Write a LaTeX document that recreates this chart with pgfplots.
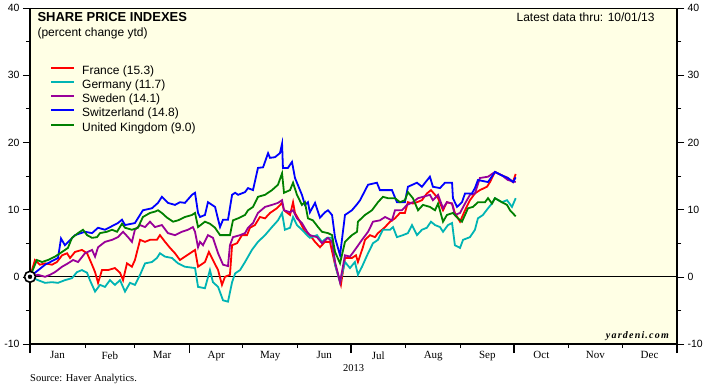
\documentclass[border=0pt]{standalone}
\usepackage{fontspec}
\setmainfont{Liberation Sans}
\newfontfamily\serif{Liberation Serif}
\newfontfamily\yard[LetterSpace=12]{Liberation Serif}
\usepackage{pgfplots}
\pgfplotsset{compat=1.18}
\definecolor{cream}{RGB}{255,255,229}
\definecolor{frc}{RGB}{255,0,0}
\definecolor{gerc}{RGB}{0,180,180}
\definecolor{swec}{RGB}{153,0,153}
\definecolor{swic}{RGB}{0,0,255}
\definecolor{ukc}{RGB}{0,128,0}
\begin{document}
\begin{tikzpicture}
\pgfplotsset{base/.style={scale only axis, width=647bp, height=336bp,
  xmin=0, xmax=365, ymin=-10, ymax=40,
  ytick={-10,0,10,20,30,40}, minor y tick num=1,
  tick align=outside, major tick length=7bp, minor tick length=4bp,
  tick style={black, line width=0.6bp},
  /pgf/number format/assume math mode=true,
  yticklabel style={font=\fontsize{10.5bp}{12bp}\selectfont},
  axis line style={line width=0.7bp}}}
\begin{axis}[base, name=main,
  axis background/.style={fill=cream},
  ytick pos=both, yticklabel pos=left,
  xtick pos=left,
  xtick={15.5,45,74.5,105,135.5,166,196.5,227.5,258,288.5,319,349.5},
  xticklabels={Jan,Feb,Mar,Apr,May,Jun,Jul,Aug,Sep,Oct,Nov,Dec},
  major x tick style={draw=none},
  minor xtick={31,59,120,151,212,243,304,334},
  minor x tick style={line width=0.8bp},
  extra x ticks={0,90,181,273,365},
  extra x tick labels={,,,,},
  extra x tick style={major tick length=9bp, major x tick style={draw=black, line width=1.5bp}},
  xticklabel style={font=\serif\fontsize{11bp}{13bp}\selectfont, yshift=3bp},
  legend style={at={(rel axis cs:0,1)}, anchor=north west, xshift=20bp, yshift=-57bp,
    draw=none, fill=none, inner sep=0pt, row sep=2.25bp, column sep=7bp,
    font=\fontsize{12bp}{14bp}\selectfont,
    nodes={inner sep=0pt, text height=9bp, text depth=3bp, anchor=west}},
  legend cell align=left,
  legend image code/.code={\draw[#1, line width=2bp] (0bp,3.5bp) -- (23bp,3.5bp);},
]
\draw[black, line width=0.8bp] (axis cs:0,0) -- (axis cs:365,0);
\addplot[frc, line width=1.8bp] coordinates {(0,0)(2.8,2.5)(5.6,1.8)(8.5,2.0)(12.4,1.8)(15.2,2.2)(18.1,3.2)(20.9,3.5)(22.6,2.8)(25.4,3.7)(29.3,4.0)(32.2,3.5)(35.0,1.8)(36.7,0.7)(38.4,-0.9)(40.6,1.0)(44.0,1.0)(47.9,1.3)(50.8,0.6)(52.5,-0.5)(54.7,2.0)(57.5,1.5)(59.2,2.5)(62.1,5.5)(64.9,5.2)(67.7,5.5)(71.6,5.5)(73.3,6.2)(76.2,5.2)(79.0,4.3)(81.8,3.5)(84.6,2.5)(87.4,3.0)(90.3,3.5)(93.1,4.0)(94.8,1.5)(98.7,2.2)(100.9,3.7)(103.2,2.5)(106.1,1.0)(108.3,-1.2)(110.0,0)(112.8,0.3)(114.0,4.7)(116.8,5.0)(119.6,6.2)(122.4,6.2)(124.1,7.3)(126.9,7.7)(129.7,8.9)(132.6,8.7)(135.4,9.5)(139.3,10.2)(142.2,11.0)(143.3,9.9)(146.7,9.2)(148.4,11.1)(149.5,9.5)(152.3,8.2)(155.1,6.7)(157.9,6.2)(160.8,5.2)(163.6,4.4)(166.4,5.2)(169.2,5.2)(172.1,1.8)(175.4,-1.2)(177.7,2.8)(181.6,2.8)(183.9,3.2)(185.0,2.2)(187.8,4.4)(189.0,5.5)(191.8,6.2)(194.6,5.9)(196.3,6.5)(198.6,7.0)(200.3,7.4)(203.1,8.2)(205.9,8.7)(208.7,9.5)(211.5,9.5)(213.2,11.1)(216.0,10.9)(218.3,11.1)(221.1,11.4)(223.9,12.4)(226.2,12.9)(228.5,12.2)(230.2,11.7)(233.0,9.9)(235.2,11.1)(238.1,10.9)(239.7,9.5)(242.6,8.2)(245.4,9.9)(248.2,11.4)(251.0,12.4)(253.8,12.9)(257.8,13.4)(259.5,14.1)(262.3,15.6)(266.2,15.1)(269.6,14.7)(272.4,14.1)(274.0,15.3)};
\addlegendentry{France (15.3)}
\addplot[gerc, line width=1.8bp] coordinates {(0,0)(4.5,-0.5)(8.5,-0.9)(12.4,-0.8)(15.8,-0.9)(19.7,-0.5)(23.7,-0.2)(26.5,0.7)(29.3,1.0)(32.2,0.6)(33.8,-0.5)(36.7,-2.2)(39.5,-1.2)(42.3,-1.5)(45.1,-0.5)(47.9,-1.2)(50.8,-0.5)(53.6,-2.2)(56.4,-0.9)(59.2,-1.2)(62.1,0.3)(64.9,2.0)(68.8,2.2)(71.6,2.8)(73.3,3.5)(76.2,3.0)(80.1,2.8)(83.5,2.0)(87.4,1.5)(93.1,1.3)(94.8,-1.5)(98.7,-1.7)(101.5,1.0)(103.2,-0.8)(106.1,-1.5)(108.9,-3.5)(111.7,-3.7)(114.0,-0.8)(115.7,0.5)(118.5,1.0)(121.3,2.2)(125.2,4.0)(128.6,5.2)(132.6,6.2)(136.5,7.4)(139.9,8.4)(142.2,9.5)(143.8,7.0)(146.7,7.3)(148.4,8.9)(150.6,7.7)(153.4,7.0)(156.3,6.2)(157.9,5.8)(161.9,6.2)(164.7,5.2)(167.5,5.8)(170.4,5.8)(172.1,1.8)(174.9,-0.8)(177.7,2.2)(180.5,1.3)(183.3,2.2)(185.0,0.3)(187.3,1.5)(190.7,3.5)(193.5,5.0)(196.3,5.5)(199.1,7.0)(203.1,7.0)(204.8,7.4)(207.0,5.9)(210.4,6.2)(213.2,6.5)(215.5,7.7)(218.3,6.2)(221.1,7.0)(223.9,7.3)(226.2,8.2)(228.5,7.7)(231.3,7.4)(233.0,6.7)(235.8,7.7)(238.1,8.0)(239.7,4.7)(242.6,4.3)(244.3,5.5)(248.2,5.9)(251.0,7.0)(252.7,8.7)(255.5,9.2)(258.4,10.2)(260.6,10.9)(262.3,11.7)(266.2,11.1)(269.1,11.4)(271.9,10.4)(274.0,11.7)};
\addlegendentry{Germany (11.7)}
\addplot[swec, line width=1.8bp] coordinates {(0,0)(4.5,0.3)(8.5,0)(11.3,0.3)(14.1,0.7)(18.1,1.5)(21.4,2.0)(24.3,2.5)(27.1,2.2)(31.0,3.5)(35.0,4.0)(36.7,3.0)(38.4,4.4)(42.3,5.2)(46.3,5.5)(49.6,5.9)(52.5,6.7)(55.3,5.9)(57.5,5.2)(59.2,7.0)(62.1,7.7)(64.9,7.4)(67.7,8.2)(70.5,7.4)(74.4,7.7)(77.8,6.5)(81.8,6.2)(85.7,6.7)(89.1,7.0)(91.9,7.4)(93.1,6.7)(94.8,4.4)(95.9,5.2)(97.6,4.7)(100.4,6.2)(103.2,5.8)(106.1,3.5)(108.9,1.8)(111.7,1.6)(112.8,4.7)(114.5,5.9)(118.5,6.2)(121.3,6.5)(123.0,7.3)(125.8,8.0)(128.6,9.5)(132.6,10.4)(136.5,10.7)(139.9,11.0)(142.2,11.4)(143.3,9.9)(146.7,9.6)(148.4,9.9)(150.6,8.7)(153.4,8.0)(156.3,6.7)(157.9,6.2)(161.9,5.9)(164.7,5.0)(168.1,5.8)(170.4,5.2)(172.1,2.2)(174.9,-0.8)(177.7,3.2)(180.5,3.0)(183.3,4.0)(187.3,5.5)(190.7,6.7)(193.5,8.2)(197.4,8.4)(200.3,8.9)(204.2,8.4)(205.9,9.9)(209.8,9.9)(212.7,10.7)(216.0,11.1)(218.9,11.7)(221.7,11.9)(225.6,12.2)(227.3,11.4)(230.2,12.2)(233.0,10.2)(235.2,11.1)(238.1,10.9)(239.7,9.2)(242.6,9.5)(245.4,10.9)(248.2,12.2)(251.0,12.4)(253.8,14.7)(258.4,14.9)(262.3,15.6)(266.2,15.1)(269.6,14.4)(274.0,14.1)};
\addlegendentry{Sweden (14.1)}
\addplot[swic, line width=1.8bp] coordinates {(0,0)(8.5,1.8)(15.8,2.8)(17.5,5.7)(19.7,4.7)(25.4,6.2)(31.0,6.7)(35.0,6.5)(38.4,7.3)(42.3,7.0)(49.6,8.0)(51.9,8.5)(53.6,7.7)(59.2,8.0)(63.7,9.9)(68.8,10.2)(72.2,11.0)(74.4,11.9)(77.8,11.0)(81.8,10.7)(84.6,11.1)(87.4,11.0)(91.4,12.2)(93.1,12.5)(94.8,9.5)(95.9,8.9)(98.7,9.2)(100.4,11.1)(102.7,10.7)(104.4,10.4)(107.2,7.4)(108.9,8.5)(111.7,8.5)(114.0,12.2)(115.7,12.5)(117.4,12.2)(121.3,12.6)(123.0,13.2)(125.8,12.9)(128.6,16.2)(131.5,16.3)(134.3,18.4)(135.4,17.7)(138.2,17.8)(141.0,18.4)(142.2,19.8)(142.7,16.2)(145.5,16.2)(147.8,17.1)(149.5,14.7)(153.4,12.2)(155.1,10.7)(156.8,11.1)(157.9,9.6)(160.8,11.0)(163.6,8.8)(166.4,9.6)(168.1,9.9)(170.4,9.2)(172.1,5.8)(174.9,3.2)(177.7,9.2)(181.6,9.9)(184.5,10.8)(186.2,11.4)(190.7,13.7)(195.7,14.0)(197.4,12.9)(204.2,12.9)(207.0,11.1)(211.5,11.1)(213.2,13.4)(218.3,14.0)(221.1,13.4)(225.6,14.9)(227.3,13.4)(231.3,13.2)(234.1,14.0)(238.1,14.0)(238.6,11.7)(240.9,10.4)(243.7,11.1)(245.4,12.4)(249.3,12.4)(251.0,13.2)(252.7,14.4)(258.4,14.1)(262.3,15.6)(266.2,15.1)(269.6,14.7)(272.6,14.1)(274.0,14.8)};
\addlegendentry{Switzerland (14.8)}
\addplot[ukc, line width=1.8bp] coordinates {(0,0)(3.9,2.5)(6.8,2.2)(10.2,2.5)(14.1,3.0)(18.1,3.7)(21.4,4.3)(23.7,5.8)(27.1,6.5)(29.9,7.0)(32.2,6.2)(35.0,5.8)(37.8,5.9)(39.5,6.5)(43.4,6.7)(46.3,7.0)(49.1,6.7)(51.9,7.9)(53.6,7.3)(57.5,7.0)(60.9,7.3)(63.7,8.9)(67.7,9.5)(70.5,9.7)(72.2,9.9)(74.4,9.5)(77.3,8.8)(80.7,8.2)(83.5,8.4)(87.4,8.9)(91.4,9.2)(93.1,9.5)(94.8,7.4)(98.7,8.2)(101.5,7.9)(104.4,7.3)(107.2,6.2)(111.1,6.2)(112.8,6.2)(114.5,8.4)(117.4,8.7)(121.3,9.2)(123.0,9.9)(125.8,10.4)(128.6,11.9)(132.6,12.2)(136.5,12.9)(139.9,13.7)(142.2,15.4)(143.3,12.5)(146.7,12.9)(148.4,14.0)(150.6,12.2)(153.4,10.7)(155.1,11.1)(156.8,8.7)(159.6,8.4)(162.5,7.4)(164.7,6.7)(168.1,6.5)(170.4,6.2)(172.1,3.7)(174.9,2.0)(177.7,5.2)(181.6,6.2)(184.5,6.7)(185.0,8.2)(189.0,9.2)(192.9,9.9)(196.3,11.1)(199.1,11.9)(201.9,11.7)(205.9,11.7)(208.7,11.1)(211.5,11.4)(213.2,12.6)(216.0,11.7)(218.9,9.9)(221.7,10.7)(225.6,10.4)(228.5,9.9)(230.2,10.9)(233.0,8.2)(235.2,9.2)(238.6,9.5)(241.4,8.7)(243.7,8.2)(247.1,10.2)(249.9,10.4)(252.7,11.1)(256.7,11.1)(258.4,11.7)(260.6,10.9)(262.3,11.7)(266.2,11.1)(269.1,10.7)(270.8,9.9)(274.0,9.0)};
\addlegendentry{United Kingdom (9.0)}
\end{axis}
\draw[black, line width=1.6bp] (main.north west) -- (main.south west) -- (main.south east) -- (main.north east);
\begin{axis}[base, name=sec, hide x axis, axis y line*=right, ytick pos=right, yticklabel pos=right]
\addplot[only marks, mark=*, mark size=5.5bp, mark options={fill=white, draw=black, line width=1.6bp}] coordinates {(0,0)};
\addplot[only marks, mark=*, mark size=2bp, black] coordinates {(0,0)};
\end{axis}
\node[anchor=west, font=\bfseries\fontsize{13bp}{15bp}\selectfont] at ([xshift=4bp,yshift=-9bp]main.north west) {SHARE PRICE INDEXES};
\node[anchor=west, font=\fontsize{12bp}{14bp}\selectfont] at ([xshift=4bp,yshift=-25bp]main.north west) {(percent change ytd)};
\node[anchor=east, font=\fontsize{12bp}{14bp}\selectfont] at ([xshift=-19bp,yshift=-9bp]main.north east) {Latest data thru: 10/01/13};
\node[anchor=south east, inner sep=0pt, font=\yard\bfseries\itshape\fontsize{10bp}{12bp}\selectfont] at ([xshift=-8bp,yshift=3bp]main.south east) {yardeni.com};
\node[anchor=center, font=\serif\fontsize{10.5bp}{12bp}\selectfont] at ([yshift=-24bp]main.south) {2013};
\node[anchor=west, inner sep=0pt, font=\serif\fontsize{10.5bp}{12bp}\selectfont] at ([yshift=-35bp]main.south west) {Source: Haver Analytics.};
\pgfresetboundingbox
\path[use as bounding box] ([shift={(-30bp,-45bp)}]main.south west) rectangle ([shift={(31bp,8bp)}]main.north east);
\end{tikzpicture}
\end{document}
